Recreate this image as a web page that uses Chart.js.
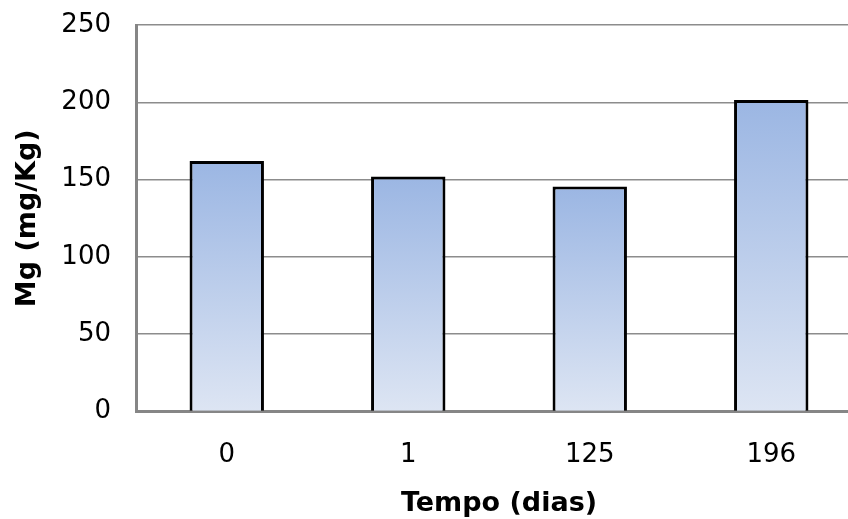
<!DOCTYPE html>
<html>
<head>
<meta charset="utf-8">
<script src="https://cdn.jsdelivr.net/npm/chart.js@4/dist/chart.umd.min.js"></script>
<style>
  html, body { margin: 0; padding: 0; background: #fff; overflow: hidden; }
  #wrap { width: 862px; height: 519px; }
</style>
</head>
<body>
<div id="wrap"><canvas id="chart1" width="862" height="519"></canvas></div>
<script>
const days = ["0", "1", "125", "196"];
const mgValues = [162, 152, 145.5, 201.5];
const yTicks = [0, 50, 100, 150, 200, 250];

const ctx1 = document.getElementById("chart1").getContext("2d");

function barGradient(context) {
  const chart = context.chart;
  const area = chart.chartArea;
  if (!area || !chart.scales.y) return "#b3c7ea";
  const y = chart.scales.y;
  const top = y.getPixelForValue(context.raw);
  const bottom = y.getPixelForValue(0);
  const g = chart.ctx.createLinearGradient(0, top, 0, bottom);
  g.addColorStop(0, "#9bb6e3");
  g.addColorStop(1, "#dde5f3");
  return g;
}

const chart1 = new Chart(ctx1, {
  type: "bar",
  data: {
    labels: days,
    datasets: [
      {
        label: "Mg",
        data: mgValues,
        backgroundColor: barGradient,
        borderColor: "#000",
        borderWidth: 3,
        borderSkipped: "bottom",
        barPercentage: 0.41,
        categoryPercentage: 1,
      },
    ],
  },
  options: {
    responsive: false,
    animation: false,
    layout: { padding: { top: 25, right: 0, left: 0, bottom: 0 } },
    plugins: { legend: { display: false }, tooltip: { enabled: false } },
    scales: {
      x: {
        grid: { drawOnChartArea: false, drawTicks: false },
        border: { display: true, color: "#868686", width: 3 },
        ticks: {
          padding: 28,
          color: "#000",
          font: { family: "DejaVu Sans", size: 26 },
        },
        title: {
          display: true,
          text: "Tempo (dias)",
          color: "#000",
          font: { family: "DejaVu Sans", size: 27, weight: "bold", lineHeight: 1.1 },
          padding: { top: 0, bottom: 0 },
        },
        afterFit: (s) => { s.height = 107.5; s.paddingLeft = 0; s.paddingRight = 0; },
      },
      y: {
        min: 0,
        max: 250,
        afterBuildTicks: (s) => { s.ticks = yTicks.map((v) => ({ value: v })); },
        grid: { color: "#8c8c8c", lineWidth: 1.5, drawTicks: false },
        border: { display: true, color: "#868686", width: 3 },
        ticks: {
          padding: 25,
          color: "#000",
          font: { family: "DejaVu Sans", size: 26 },
        },
        title: {
          display: true,
          text: "Mg (mg/Kg)",
          color: "#000",
          font: { family: "DejaVu Sans", size: 27, weight: "bold", lineHeight: 1.1 },
          padding: { top: 13, bottom: 0 },
        },
        afterFit: (s) => { s.width = 136; s.paddingTop = 0; s.paddingBottom = 0; },
      },
    },
  },
});
</script>
</body>
</html>
